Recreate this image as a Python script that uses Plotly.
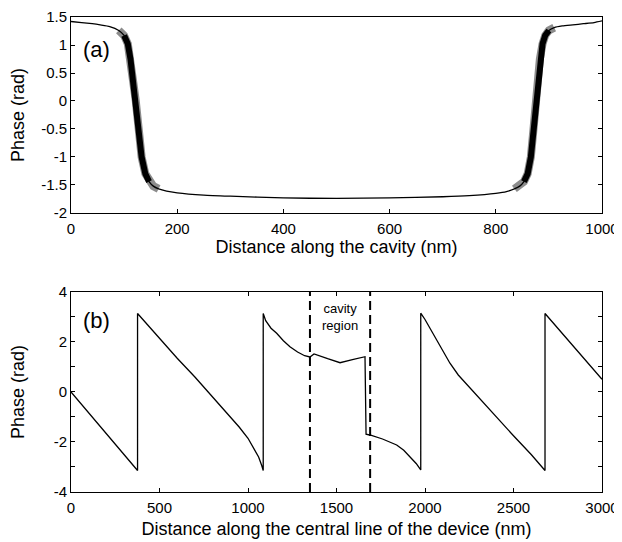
import numpy as np
import plotly.graph_objects as go

# ---- Panel (a): phase along the cavity ----
cav_x = [0, 20, 40, 55, 73, 90, 100, 107, 112, 117, 122, 127, 133, 140, 147, 155, 165,
         180, 200, 250, 300, 400, 500, 600, 700, 750, 800, 820, 835, 845, 853, 860,
         866, 871, 875, 879, 883, 888, 893, 900, 910, 925, 945, 965, 985, 1000]
cav_phase = [1.42, 1.40, 1.38, 1.36, 1.33, 1.26, 1.17, 1.02, 0.75, 0.35, 0.00, -0.50,
             -1.00, -1.30, -1.44, -1.52, -1.57, -1.61, -1.64, -1.68, -1.70, -1.73,
             -1.74, -1.73, -1.71, -1.69, -1.65, -1.62, -1.57, -1.52, -1.44, -1.30,
             -1.00, -0.50, 0.00, 0.35, 0.75, 1.02, 1.17, 1.26, 1.31, 1.34, 1.36,
             1.38, 1.40, 1.43]

# ---- Panel (b): phase along the central line of the device ----
dev_x = [0, 376, 376, 500, 600, 700, 800, 900, 950, 1000, 1030, 1060, 1078, 1086, 1086,
         1100, 1130, 1162, 1200, 1237, 1280, 1320, 1350, 1373, 1450, 1520, 1590,
         1661, 1667, 1693, 1760, 1840, 1880, 1920, 1950, 1976, 1976, 2000, 2050, 2100,
         2141, 2188, 2300, 2400, 2500, 2600, 2678, 2678, 2800, 2900, 3000]
dev_phase = [0.00, -3.14, 3.14, 2.15, 1.35, 0.60, -0.20, -0.98, -1.40, -1.85, -2.20,
             -2.60, -2.95, -3.14, 3.14, 2.85, 2.55, 2.35, 2.05, 1.81, 1.60, 1.45, 1.40,
             1.52, 1.33, 1.17, 1.29, 1.41, -1.69, -1.73, -1.88, -2.12, -2.33, -2.62,
             -2.86, -3.12, 3.15, 2.90, 2.30, 1.65, 1.15, 0.68, -0.20, -1.00, -1.75,
             -2.50, -3.14, 3.14, 2.14, 1.33, 0.51]

cavity_bounds = [1350, 1690]

# ---- tick labels ----
ya_vals = [1.5, 1, 0.5, 0, -0.5, -1, -1.5, -2]
ya_text = ["1.5", "1", "0.5", "0", "-0.5", "-1", "-1.5", "-2"]
xa_vals = [0, 200, 400, 600, 800, 1000]
xa_text = ["0", "200", "400", "600", "800", "1000"]
yb_vals = [4, 2, 0, -2, -4]
yb_text = ["4", "2", "0", "-2", "-4"]
xb_vals = [0, 500, 1000, 1500, 2000, 2500, 3000]
xb_text = ["0", "500", "1000", "1500", "2000", "2500", "3000"]

FONT = "Liberation Sans, Arial, Helvetica, sans-serif"

fig = go.Figure()

cx = np.array(cav_x, dtype=float)
cy = np.array(cav_phase, dtype=float)

# noisy transition regions drawn as thicker strokes of the same data
for m in [((cx >= 90) & (cx <= 165)), ((cx >= 835) & (cx <= 910))]:
    fig.add_trace(go.Scatter(x=cx[m], y=cy[m], mode="lines",
                             line=dict(color="rgba(0,0,0,0.45)", width=8),
                             xaxis="x", yaxis="y", hoverinfo="skip", showlegend=False))
for m in [((cx >= 100) & (cx <= 147)), ((cx >= 853) & (cx <= 900))]:
    fig.add_trace(go.Scatter(x=cx[m], y=cy[m], mode="lines",
                             line=dict(color="black", width=6),
                             xaxis="x", yaxis="y", hoverinfo="skip", showlegend=False))
fig.add_trace(go.Scatter(x=cav_x, y=cav_phase, mode="lines",
                         line=dict(color="black", width=1.3, shape="spline", smoothing=0.6),
                         xaxis="x", yaxis="y", showlegend=False))

fig.add_trace(go.Scatter(x=dev_x, y=dev_phase, mode="lines",
                         line=dict(color="black", width=1.3),
                         xaxis="x2", yaxis="y2", showlegend=False))

for xb in cavity_bounds:
    fig.add_trace(go.Scatter(x=[xb, xb], y=[-4, 4], mode="lines",
                             line=dict(color="black", width=2, dash="9px,5px"),
                             xaxis="x2", yaxis="y2", showlegend=False))

top_dom = [0.5874, 1.0]
bot_dom = [0.0, 0.4211]
axcommon = dict(showline=True, linecolor="black", linewidth=1, ticks="inside",
                ticklen=4, tickcolor="black", tickwidth=1, showgrid=False,
                zeroline=False, automargin=False, ticklabeloverflow="allow",
                tickfont=dict(family=FONT, size=15, color="black"))
TFONT = dict(family=FONT, size=18, color="black")

# the page body has an 8px default margin, so the figure is sized to compensate
fig.update_layout(
    width=614, height=534,
    margin=dict(l=63, r=20, t=9, b=50),
    paper_bgcolor="white", plot_bgcolor="white",
    font=dict(family=FONT, color="black"),
    xaxis=dict(axcommon, domain=[0, 1], anchor="y", range=[0, 1000],
               tickvals=xa_vals, ticktext=xa_text, mirror=True, ticklabelstandoff=2,
               title=dict(text="Distance along the cavity (nm)", font=TFONT, standoff=0)),
    xaxis3=dict(axcommon, overlaying="x", anchor="y", side="top", range=[0, 1000],
                dtick=1000 / 12, tick0=0, showticklabels=False, showline=False),
    yaxis=dict(axcommon, domain=top_dom, anchor="x", range=[-2, 1.5],
               tickvals=ya_vals, ticktext=ya_text, mirror="ticks",
               title=dict(text="Phase (rad)", font=TFONT, standoff=14)),
    xaxis2=dict(axcommon, domain=[0, 1], anchor="y2", range=[0, 3000],
                tickvals=xb_vals, ticktext=xb_text, mirror="ticks", ticklabelstandoff=2,
                title=dict(text="Distance along the central line of the device (nm)",
                           font=TFONT, standoff=7)),
    yaxis2=dict(axcommon, domain=bot_dom, anchor="x2", range=[-4, 4],
                tickvals=yb_vals, ticktext=yb_text, mirror="ticks",
                minor=dict(dtick=1, tick0=0, ticks="inside", ticklen=4, tickcolor="black"),
                title=dict(text="Phase (rad)", font=TFONT, standoff=28)),
    annotations=[
        dict(text="(a)", x=0.018, y=1.0, xref="x domain", yref="y domain",
             xanchor="left", yanchor="top", yshift=-18, showarrow=False,
             font=dict(family=FONT, size=22)),
        dict(text="(b)", x=0.018, y=1.0, xref="x2 domain", yref="y2 domain",
             xanchor="left", yanchor="top", yshift=-14, showarrow=False,
             font=dict(family=FONT, size=22)),
        dict(text="cavity<br>region", x=sum(cavity_bounds) / 2, y=3.0, xref="x2", yref="y2",
             showarrow=False, font=dict(family=FONT, size=13)),
    ],
)

fig.write_html("out.html")
